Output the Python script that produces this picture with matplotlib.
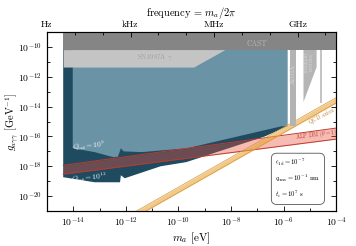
import numpy as np
import matplotlib
matplotlib.use("Agg")
import matplotlib.pyplot as plt
from matplotlib.ticker import NullFormatter

plt.rcParams['font.family'] = 'serif'
plt.rcParams['font.serif'] = ['cmr10', 'DejaVu Serif']
plt.rcParams['mathtext.fontset'] = 'cm'
plt.rcParams['axes.formatter.use_mathtext'] = True

h_eVs = 4.1357e-15  # eV per Hz

# plot range (log10)
lm_min, lm_max = np.log10(h_eVs), -4.0
lg_min, lg_max = -21.0, -9.0

# existing bounds (log10 m, log10 g)
cast_g = -10.18
sn_m = [lm_min, -9.42, -8.23]
sn_g = [-11.35, -11.35, -10.18]
admx_m = [-5.75, -5.53]
admx_g = -15.3
cav_m = [-5.24, -5.24, -4.74, -4.74]
cav_g = [-10.18, -13.7, -11.35, -10.18]
thin_m = [-4.61, -4.55]
thin_g = -13.77

# projected sensitivity, Q_int = 1e12 (lower edge)
q12_m = [-5.855, -6.68, -9.70, -10.68, -12.04, -12.19, -12.22, -13.19, lm_min]
q12_g = [-15.31, -15.98, -17.72, -18.0, -18.80, -18.60, -19.07, -19.07, -18.73]
# projected sensitivity, Q_int = 1e9 (lower edge)
q9_m = [-14.02, -13.19, -12.47, -12.30, -12.19, -12.08, -11.4, -9.67, -6.08, -5.855]
q9_g = [-16.79, -17.05, -17.39, -17.35, -16.80, -17.0, -17.05, -16.79, -15.32, -15.31]

# ALP DM (theta=1) band edges: two points each
alp_m = [lm_min, -4.0]
alp_up = [-17.93, -15.44]
alp_lo = [-18.53, -16.18]

# QCD axion band: log g = log m + offset
qcd_up_off = -9.40
qcd_lo_off = -9.76

fig = plt.figure(figsize=(3.56, 2.46), dpi=100)
ax = fig.add_axes([0.132, 0.142, 0.812, 0.728])

P = lambda a: 10.0 ** np.asarray(a, dtype=float)

# Q_int = 1e12 region (dark)
xs = np.r_[lm_min, q12_m[0], q12_m]
ys = np.r_[lg_max, lg_max, q12_g]
ax.fill(P(xs), P(ys), color='#1e4b60', lw=0, zorder=1)
# Q_int = 1e9 region (light)
xs = np.r_[q9_m[0], q9_m, q9_m[-1]]
ys = np.r_[lg_max, q9_g, lg_max]
ax.fill(P(xs), P(ys), color='#6b93a6', lw=0, zorder=2)

# ALP DM band
mm = np.linspace(alp_m[0], alp_m[1], 50)
up = np.interp(mm, alp_m, alp_up)
lo = np.interp(mm, alp_m, alp_lo)
ax.fill_between(P(mm), P(lo), P(up), color='#e8503c', alpha=0.38, lw=0, zorder=3)
ax.plot(P(mm), P(up), color='#c0392b', lw=0.7, zorder=3)
ax.plot(P(mm), P(lo), color='#c0392b', lw=0.7, zorder=3)

# QCD axion band
mq = np.linspace(lm_min, lm_max, 50)
ax.fill_between(P(mq), P(mq + qcd_lo_off), P(mq + qcd_up_off),
                color='#e8a53a', alpha=0.6, lw=0, zorder=4)
ax.plot(P(mq), P(mq + qcd_up_off), color='#d8963a', lw=0.5, zorder=4)
ax.plot(P(mq), P(mq + qcd_lo_off), color='#d8963a', lw=0.5, zorder=4)

# gray bounds
ax.fill_between(P([lm_min, lm_max]), P([cast_g, cast_g]), P([lg_max, lg_max]),
                color='#858585', lw=0, zorder=6)
ax.fill_between(P(sn_m), P(sn_g), P([cast_g] * 3), color='#c4c4c4', lw=0, zorder=5)
ax.fill_between(P(admx_m), P([admx_g] * 2), P([cast_g] * 2), color='#b3b3b3', lw=0, zorder=5)
ax.fill(P(cav_m), P(cav_g), color='#b5b5b5', lw=0, zorder=5)
ax.fill_between(P(thin_m), P([thin_g] * 2), P([cast_g] * 2), color='#c4c4c4', lw=0, zorder=5)

# labels
ax.text(10 ** -7.0, 10 ** -9.8, 'CAST', color='#b5b5b5', fontsize=5.5,
        ha='center', va='center', zorder=7)
ax.text(10 ** -10.9, 10 ** -10.75, r'SN1987A $\gamma$', color='#a0a0a0', fontsize=5,
        ha='center', va='center', zorder=7)
ax.text(10 ** -5.64, 10 ** -11.8, 'ADMX', color='#d8d8d8', fontsize=4.5,
        rotation=90, ha='center', va='center', zorder=7)
ax.text(10 ** -5.05, 10 ** -11.0, 'resonant\ncavities', color='#d8d8d8', fontsize=4,
        rotation=90, ha='center', va='center', linespacing=0.9, zorder=7)
ax.text(10 ** -4.55, 10 ** -14.6, 'QCD axion', color='#c08030', fontsize=4,
        rotation=28, ha='center', va='center', zorder=7)
ax.text(10 ** -4.75, 10 ** -15.9, r'ALP DM ($\theta = 1$)', color='#c0392b', fontsize=4,
        rotation=7, ha='center', va='center', zorder=7)
ax.text(10 ** -13.4, 10 ** -16.6, r'$Q_{\rm int} = 10^9$', color='white', fontsize=5.3,
        rotation=5, ha='center', va='center', zorder=7)
ax.text(10 ** -13.4, 10 ** -18.75, r'$Q_{\rm int} = 10^{12}$', color='white', fontsize=5.3,
        rotation=5, ha='center', va='center', zorder=7)

ax.text(0.79, 0.18,
        '$\\epsilon_{\\rm 1d} = 10^{-7}$\n$q_{\\rm rms} = 10^{-1}$ nm\n$t_e = 10^{7}$ s',
        transform=ax.transAxes, fontsize=4.8, ha='left', va='center', linespacing=1.6,
        bbox=dict(boxstyle='round,pad=0.6,rounding_size=0.8', fc='white', ec='#555555', lw=0.6),
        zorder=8)

ax.set_xscale('log')
ax.set_yscale('log')
ax.set_xlim(10 ** lm_min, 10 ** lm_max)
ax.set_ylim(10 ** lg_min, 10 ** lg_max)

xt = np.arange(-14, -3, 2)
ax.set_xticks(P(xt))
ax.set_xticklabels([r'$10^{%d}$' % t for t in xt])
ax.set_xticks(P(np.arange(-15, -4, 2)), minor=True)
yt = np.arange(-20, -9, 2)
ax.set_yticks(P(yt))
ax.set_yticklabels([r'$10^{%d}$' % t for t in yt])
ax.set_yticks(P(np.arange(-21, -8, 2)), minor=True)
ax.xaxis.set_minor_formatter(NullFormatter())
ax.yaxis.set_minor_formatter(NullFormatter())
ax.tick_params(which='both', direction='in', right=True, labelsize=7, width=0.6)
ax.tick_params(which='major', length=3.5)
ax.tick_params(which='minor', length=2)
ax.set_xlabel(r'$m_a$ [eV]', fontsize=8, labelpad=1)
ax.set_ylabel(r'$g_{a\gamma\gamma}$ [GeV$^{-1}$]', fontsize=7.5)
ax.yaxis.set_label_coords(-0.095, 0.5)

top = ax.twiny()
top.set_xscale('log')
top.set_xlim(10 ** lm_min / h_eVs, 10 ** lm_max / h_eVs)
top.set_xticks([1e0, 1e3, 1e6, 1e9])
top.set_xticklabels(['Hz', 'kHz', 'MHz', 'GHz'])
top.set_xticks(P(np.arange(0, 11)), minor=True)
top.xaxis.set_minor_formatter(NullFormatter())
top.tick_params(which='both', direction='in', labelsize=7, width=0.6, pad=2)
top.tick_params(which='major', length=3.5)
top.tick_params(which='minor', length=2)
top.set_title(r'frequency = $m_a/2\pi$', fontsize=7.5, pad=3)

fig.savefig('out.png', dpi=100)
